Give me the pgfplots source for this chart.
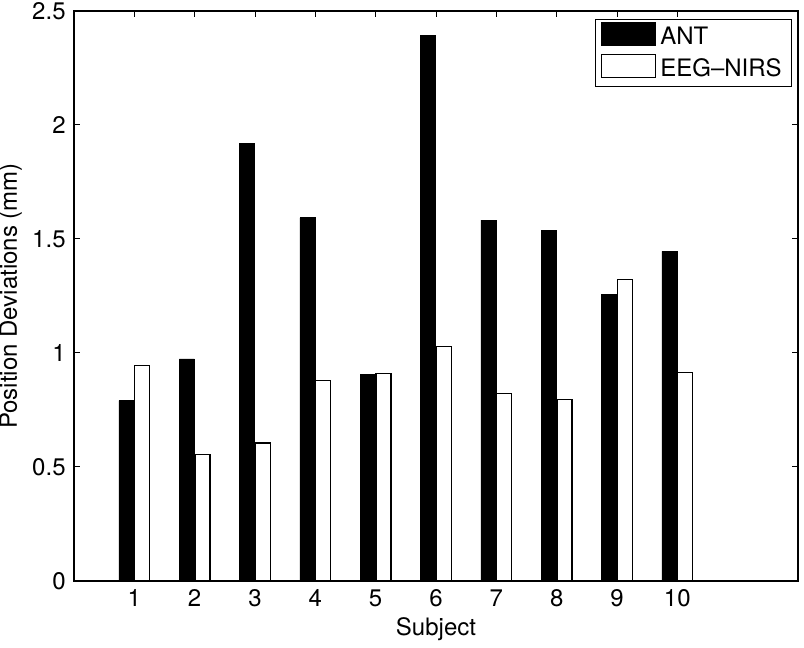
\documentclass[border=0pt]{standalone}
\usepackage{pgfplots}
\pgfplotsset{compat=1.18}
\usepackage{fontspec}
\setmainfont{TeX Gyre Heros}
\begin{document}
\fontsize{12bp}{14bp}\selectfont
\begin{tikzpicture}
\useasboundingbox (-37bp,-33.5bp) rectangle (365bp,290.5bp);
\begin{axis}[
  at={(0,0)}, anchor=south west,
  scale only axis,
  width=362bp, height=285bp,
  xmin=0, xmax=12, ymin=0, ymax=2.5,
  xtick={1,2,3,4,5,6,7,8,9,10},
  ytick={0,0.5,1,1.5,2,2.5},
  yticklabels={0,0.5,1,1.5,2,2.5},
  tick align=inside,
  xtick pos=both, ytick pos=both,
  major tick length=3bp,
  axis line style={line width=0.6bp},
  every tick/.style={line width=0.5bp, black},
  /pgf/number format/assume math mode=true,
  tick label style={font=\fontsize{12bp}{14bp}\selectfont},
  label style={font=\fontsize{12bp}{14bp}\selectfont},
  xlabel={Subject},
  ylabel={Position Deviations (mm)},
  xlabel style={yshift=3bp},
  ylabel style={yshift=-3bp},
  legend style={at={(0.992,0.986)}, anchor=north east, draw=black, line width=0.5bp,
    font=\fontsize{12bp}{14bp}\selectfont, inner xsep=3bp, inner ysep=1.5bp,
    row sep=0.5bp, legend cell align=left},
  legend image code/.code={\draw[#1, line width=0.5bp] (0bp,-4bp) rectangle (27bp,7.5bp);},
]
\addplot[ybar, bar width=0.25, bar shift=-0.13, fill=black, draw=black, line width=0.4bp]
  coordinates {(1,0.791) (2,0.974) (3,1.918) (4,1.593) (5,0.904) (6,2.392) (7,1.583) (8,1.537) (9,1.258) (10,1.446)};
\addlegendentry{ANT}
\addplot[ybar, bar width=0.25, bar shift=0.13, fill=white, draw=black, line width=0.6bp]
  coordinates {(1,0.944) (2,0.556) (3,0.605) (4,0.879) (5,0.909) (6,1.028) (7,0.823) (8,0.795) (9,1.323) (10,0.914)};
\addlegendentry{EEG\textendash NIRS}
\end{axis}
\end{tikzpicture}
\end{document}
